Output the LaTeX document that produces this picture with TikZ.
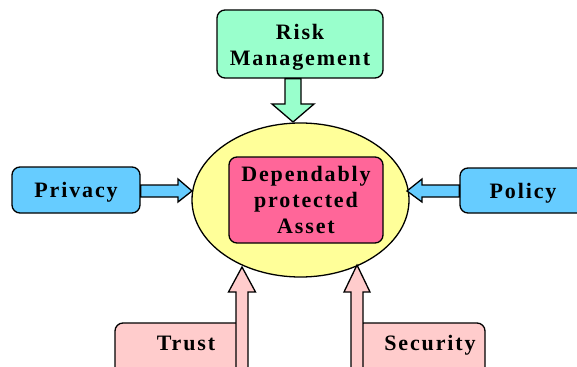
\documentclass[tikz,border=0pt]{standalone}
\usepackage{fontspec}
\setmainfont{Liberation Serif}
\newfontfamily\labfont{Liberation Serif}[LetterSpace=8.5]
\usetikzlibrary{calc,shapes.geometric}
\definecolor{mint}{RGB}{153,255,204}
\definecolor{sky}{RGB}{102,204,255}
\definecolor{lemon}{RGB}{255,255,153}
\definecolor{rose}{RGB}{255,102,153}
\definecolor{blush}{RGB}{255,204,204}
\tikzset{
  box/.style={draw=black, line width=1.3pt, rounded corners=8pt, inner sep=0pt},
  lbl/.style={font=\labfont\bfseries\fontsize{22}{26}\selectfont, align=center, inner sep=0pt},
  barrow/.style={draw=black, line width=1.3pt, line join=miter},
}
\begin{document}
\begin{tikzpicture}[x=1pt,y=-1pt]
\clip (0,0) rectangle (577,366);
% boxes
\node[box, fill=mint, minimum width=166pt, minimum height=68pt] (risk) at (300,44) {};
\node[lbl] (risktext) at (300,47) {Risk\\Management};
\node[box, fill=sky, minimum width=128pt, minimum height=46pt, lbl, text depth=0pt] (priv) at (76,190) {Privacy};
\node[box, fill=sky, minimum width=126pt, minimum height=45pt, lbl, text depth=0pt] (policy) at (523,190.5) {Policy};
\node[draw=black, line width=1.3pt, ellipse, fill=lemon, minimum width=217pt, minimum height=154pt, inner sep=0pt] (ell) at (300.5,200) {};
\node[box, fill=rose, minimum width=154pt, minimum height=86pt, lbl] (asset) at (306,200) {Dependably\\protected\\Asset};
\node[box, fill=blush, minimum width=129pt, minimum height=57pt] (trust) at (179.5,351.5) {};
\node[lbl, anchor=base] (trusttext) at (186,350) {Trust};
\node[box, fill=blush, minimum width=129pt, minimum height=57pt] (sec) at (420.5,351.5) {};
\node[lbl, anchor=base] (sectext) at (430,350) {Security};
% arrow tips
\coordinate (tRisk) at (293,122);
\coordinate (tPriv) at (192,191);
\coordinate (tPol) at (407,191);
\coordinate (tTrust) at (242,267);
\coordinate (tSec) at (357,265);
% block arrows
\draw[barrow, fill=mint] ($(tRisk |- risk.south)+(-8,0)$) -- ($(tRisk)+(-8,-18)$) -- ($(tRisk)+(-21,-18)$) -- (tRisk)
  -- ($(tRisk)+(21,-18)$) -- ($(tRisk)+(8,-18)$) -- ($(tRisk |- risk.south)+(8,0)$) -- cycle;
\draw[barrow, fill=sky] ($(tPriv -| priv.east)+(0,-6)$) -- ($(tPriv)+(-14,-6)$) -- ($(tPriv)+(-14,-12)$) -- (tPriv)
  -- ($(tPriv)+(-14,11)$) -- ($(tPriv)+(-14,6)$) -- ($(tPriv -| priv.east)+(0,6)$) -- cycle;
\draw[barrow, fill=sky] ($(tPol -| policy.west)+(0,-6)$) -- ($(tPol)+(15,-6)$) -- ($(tPol)+(15,-12)$) -- (tPol)
  -- ($(tPol)+(15,11)$) -- ($(tPol)+(15,6)$) -- ($(tPol -| policy.west)+(0,6)$) -- cycle;
\draw[barrow, fill=blush] ($(tTrust |- trust.south)+(-6,0)$) -- ($(tTrust)+(-6,25)$) -- ($(tTrust)+(-13.5,25)$) -- (tTrust)
  -- ($(tTrust)+(13.5,25)$) -- ($(tTrust)+(6,25)$) -- ($(tTrust |- trust.south)+(6,0)$) -- cycle;
\draw[barrow, fill=blush] ($(tSec |- sec.south)+(-6,0)$) -- ($(tSec)+(-6,27)$) -- ($(tSec)+(-13,27)$) -- (tSec)
  -- ($(tSec)+(13,27)$) -- ($(tSec)+(6,27)$) -- ($(tSec |- sec.south)+(6,0)$) -- cycle;
\end{tikzpicture}
\end{document}
